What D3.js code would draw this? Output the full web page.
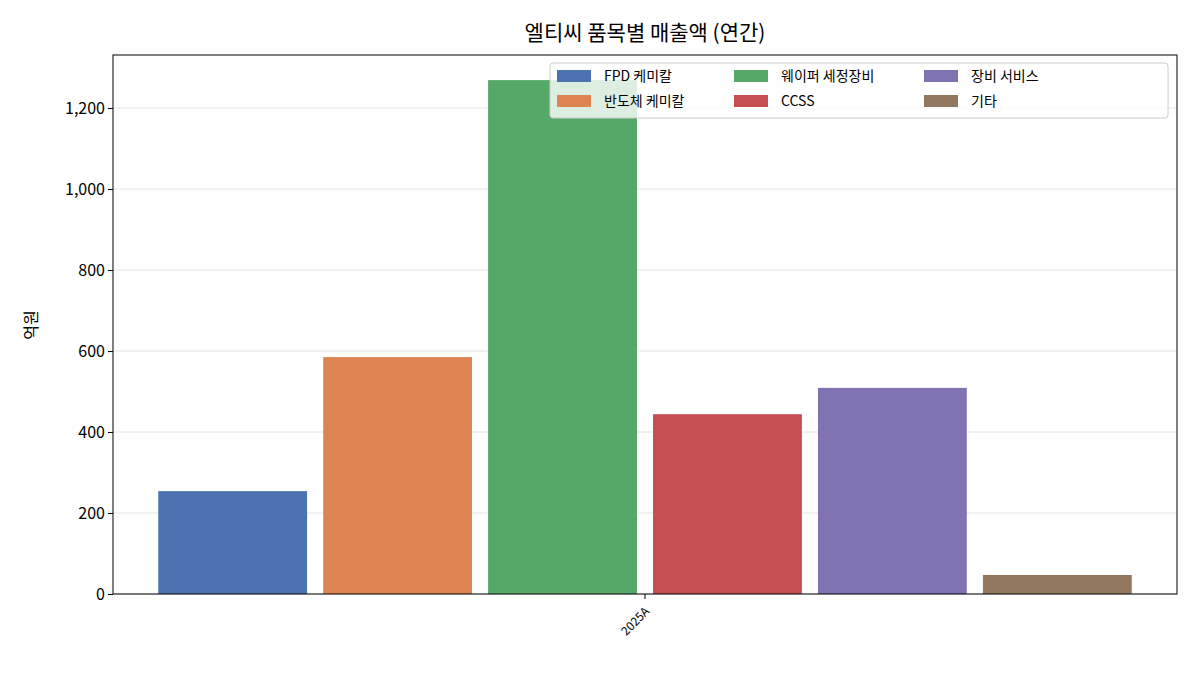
<!DOCTYPE html><html><head><meta charset="utf-8"><script src="https://cdn.jsdelivr.net/npm/d3@7"></script>
<style>body{margin:0;background:#fff}text{font-family:"Noto Sans CJK KR","Noto Sans",sans-serif}</style></head><body><svg id="c" width="1200" height="675"></svg><script>
const categories=["2025A"];
const series=["FPD 케미칼","반도체 케미칼","웨이퍼 세정장비","CCSS","장비 서비스","기타"];
const values=[254,585,1269,444,509,47];
const colors=["#4C72B0","#DD8452","#55A868","#C44E52","#8172B3","#937860"];
const yTicks=[0,200,400,600,800,1000,1200];
const svg=d3.select("#c");
const L=113,R=1177,T=55,B=594;
const y=d3.scaleLinear().domain([0,1331]).range([B,T]);
const x0=d3.scaleBand().domain(categories).range([L,R]).paddingInner(0).paddingOuter(0.0376);
const x1=d3.scaleBand().domain(series).range([x0(categories[0]),x0(categories[0])+x0.bandwidth()]).paddingInner(0.0976).paddingOuter(0.0488);
svg.append("g").selectAll("line").data(yTicks).join("line").attr("x1",L).attr("x2",R).attr("y1",d=>y(d)).attr("y2",d=>y(d)).attr("stroke","#e5e5e5");
svg.append("g").selectAll("rect").data(series).join("rect").attr("x",d=>x1(d)).attr("width",x1.bandwidth()).attr("y",(d,i)=>y(values[i])).attr("height",(d,i)=>B-y(values[i])).attr("fill",(d,i)=>colors[i]);
svg.append("rect").attr("x",L).attr("y",T).attr("width",R-L).attr("height",B-T).attr("fill","none").attr("stroke","#000");
const ya=svg.append("g").attr("transform",`translate(${L},0)`).call(d3.axisLeft(y).tickValues(yTicks).tickSize(5).tickSizeOuter(0));
ya.select(".domain").remove();ya.selectAll("text").attr("font-size",16).attr("fill","#000").attr("font-family","Noto Sans CJK KR");
const xa=svg.append("g").attr("transform",`translate(0,${B})`).call(d3.axisBottom(x0).tickSize(5).tickSizeOuter(0));
xa.select(".domain").remove();
xa.selectAll("text").attr("font-size",12).attr("font-family","Noto Sans CJK KR").attr("text-anchor","end").attr("dy","0.3em").attr("transform","translate(-3,10) rotate(-45)");
svg.append("text").attr("x",645).attr("y",40).attr("text-anchor","middle").attr("font-size",21).text("엘티씨 품목별 매출액 (연간)");
svg.append("text").attr("transform","translate(37,325) rotate(-90)").attr("text-anchor","middle").attr("font-size",16).text("억원");
const lg=svg.append("g");
lg.append("rect").attr("x",550).attr("y",63).attr("width",618).attr("height",55).attr("rx",3).attr("fill","#fff").attr("fill-opacity",0.8).attr("stroke","#ccc");
const colX=[557,734,924,1086];
series.forEach((s,i)=>{const c=Math.floor(i/2),r=i%2;const cx=colX[c],cy=76+r*25;
lg.append("rect").attr("x",cx).attr("y",cy-6).attr("width",34).attr("height",12).attr("fill",colors[i]);
lg.append("text").attr("x",cx+47).attr("y",cy+5).attr("font-size",14).text(s);});
</script></body></html>
